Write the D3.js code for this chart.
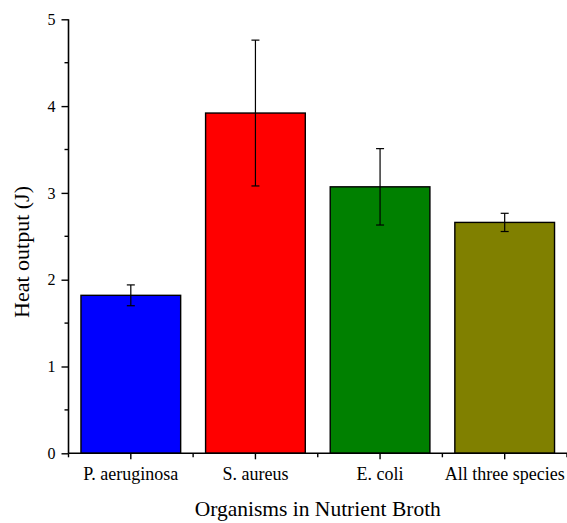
<!DOCTYPE html>
<html>
<head>
<meta charset="utf-8">
<script src="https://cdn.jsdelivr.net/npm/d3@7"></script>
<style>
  body { margin: 0; background: #fff; }
  svg text { font-family: "Liberation Serif", "Times New Roman", Times, "DejaVu Serif", serif !important; fill: #000; }
</style>
</head>
<body>
<svg id="chart" width="567" height="523"></svg>
<script>
// heat output per organism group
const categories = ["P. aeruginosa", "S. aureus", "E. coli", "All three species"];
const heatValues = [1.82, 3.92, 3.07, 2.66];
const heatErrors = [0.12, 0.84, 0.44, 0.105];
const barColors = ["#0000ff", "#ff0000", "#008000", "#808000"];
const yTicks = [0, 1, 2, 3, 4, 5];

const svg = d3.select("#chart");
const margin = { left: 68.5, right: 0, top: 19.3, bottom: 69.7 };
const width = 567, height = 523;

const x = d3.scaleBand()
    .domain(categories)
    .range([margin.left, width - margin.right])
    .paddingInner(0.2)
    .paddingOuter(0.1);

const y = d3.scaleLinear()
    .domain([0, 5])
    .range([height - margin.bottom, margin.top]);

// bars
svg.append("g").selectAll("rect")
    .data(categories)
    .join("rect")
    .attr("x", d => x(d))
    .attr("y", (d, i) => y(heatValues[i]))
    .attr("width", x.bandwidth())
    .attr("height", (d, i) => y(0) - y(heatValues[i]))
    .attr("fill", (d, i) => barColors[i])
    .attr("stroke", "#000")
    .attr("stroke-width", 1.4);

// error bars
const err = svg.append("g").attr("stroke", "#000").attr("stroke-width", 1.2);
categories.forEach((c, i) => {
    const cx = x(c) + x.bandwidth() / 2;
    const lo = y(heatValues[i] - heatErrors[i]), hi = y(heatValues[i] + heatErrors[i]);
    err.append("line").attr("x1", cx).attr("x2", cx).attr("y1", lo).attr("y2", hi);
    err.append("line").attr("x1", cx - 4).attr("x2", cx + 4).attr("y1", lo).attr("y2", lo);
    err.append("line").attr("x1", cx - 4).attr("x2", cx + 4).attr("y1", hi).attr("y2", hi);
});

// y axis
const yAxis = svg.append("g")
    .attr("transform", `translate(${margin.left},0)`)
    .call(d3.axisLeft(y).tickValues(yTicks).tickFormat(d3.format("d")).tickSize(7).tickPadding(6));
// minor y ticks
yAxis.selectAll(".minor")
    .data(d3.range(0.5, 5, 1))
    .join("line")
    .attr("class", "minor")
    .attr("x1", -4).attr("x2", 0)
    .attr("y1", d => y(d)).attr("y2", d => y(d))
    .attr("stroke", "#000").attr("stroke-width", 1.4);

// x axis
const xAxis = svg.append("g")
    .attr("transform", `translate(0,${y(0)})`)
    .call(d3.axisBottom(x).tickSize(6).tickPadding(8));
xAxis.selectAll(".minor")
    .data(d3.range(0, categories.length + 1))
    .join("line")
    .attr("class", "minor")
    .attr("x1", d => margin.left + d * x.step()).attr("x2", d => margin.left + d * x.step())
    .attr("y1", 0).attr("y2", 4)
    .attr("stroke", "#000").attr("stroke-width", 1.4);

[yAxis, xAxis].forEach(a => {
    a.attr("font-family", null);
    a.select(".domain").attr("stroke-width", 1.6);
    a.selectAll(".tick line").attr("stroke-width", 1.4);
});
yAxis.select(".domain").attr("d", `M0,${y(5)}V${y(0)}`);
xAxis.select(".domain").attr("d", `M${margin.left},0H${width}`);
yAxis.selectAll(".tick text").attr("font-size", 16);
xAxis.selectAll(".tick text").attr("font-size", 18);

// axis titles
svg.append("text")
    .attr("x", (margin.left + width) / 2)
    .attr("y", 516)
    .attr("text-anchor", "middle")
    .attr("font-size", 21.5)
    .text("Organisms in Nutrient Broth");

svg.append("text")
    .attr("transform", `translate(29,252) rotate(-90)`)
    .attr("text-anchor", "middle")
    .attr("font-size", 22)
    .text("Heat output (J)");
</script>
</body>
</html>
